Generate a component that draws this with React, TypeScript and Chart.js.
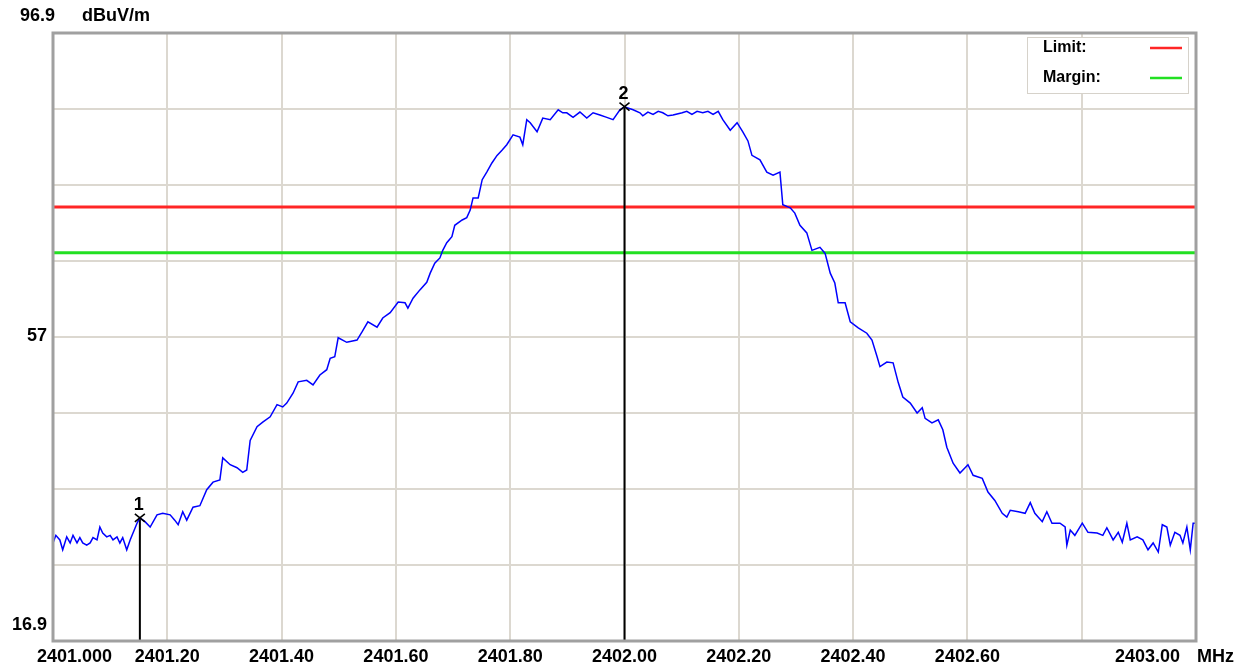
import React, { useEffect, useRef } from 'react';
import { Chart, registerables } from 'chart.js';

Chart.register(...registerables);

const freqMHz = [
  2401.000, 2401.005, 2401.012, 2401.017, 2401.024, 2401.030, 2401.035, 2401.042, 2401.047, 2401.052,
  2401.059, 2401.065, 2401.070, 2401.077, 2401.082, 2401.087, 2401.094, 2401.100, 2401.105, 2401.112,
  2401.117, 2401.122, 2401.129, 2401.135, 2401.147, 2401.152, 2401.161, 2401.170, 2401.182, 2401.192,
  2401.205, 2401.213, 2401.219, 2401.227, 2401.234, 2401.245, 2401.257, 2401.269, 2401.280, 2401.292,
  2401.297, 2401.310, 2401.322, 2401.332, 2401.339, 2401.345, 2401.357, 2401.367, 2401.380, 2401.392,
  2401.402, 2401.409, 2401.420, 2401.429, 2401.444, 2401.455, 2401.467, 2401.479, 2401.485, 2401.493,
  2401.499, 2401.514, 2401.532, 2401.541, 2401.551, 2401.567, 2401.577, 2401.590, 2401.604, 2401.616,
  2401.621, 2401.630, 2401.642, 2401.654, 2401.660, 2401.668, 2401.677, 2401.682, 2401.689, 2401.698,
  2401.703, 2401.716, 2401.724, 2401.730, 2401.735, 2401.744, 2401.751, 2401.759, 2401.768, 2401.777,
  2401.786, 2401.794, 2401.805, 2401.817, 2401.822, 2401.829, 2401.835, 2401.847, 2401.857, 2401.870,
  2401.884, 2401.892, 2401.899, 2401.910, 2401.922, 2401.934, 2401.945, 2401.957, 2401.969, 2401.980,
  2401.992, 2402.000,
  2402.015, 2402.027, 2402.032, 2402.041, 2402.050, 2402.059, 2402.067, 2402.076, 2402.085, 2402.101,
  2402.109, 2402.118, 2402.127, 2402.137, 2402.146, 2402.155, 2402.164,
  2402.172, 2402.185, 2402.197, 2402.207, 2402.216, 2402.223, 2402.237, 2402.249,
  2402.260, 2402.272, 2402.277, 2402.290, 2402.298, 2402.307, 2402.319, 2402.328, 2402.342, 2402.351,
  2402.360, 2402.368, 2402.374, 2402.386, 2402.395, 2402.409, 2402.424, 2402.433, 2402.442, 2402.447,
  2402.459, 2402.470, 2402.479, 2402.487, 2402.500, 2402.512, 2402.521, 2402.526, 2402.538, 2402.549,
  2402.557, 2402.564, 2402.575, 2402.587, 2402.601, 2402.610, 2402.626, 2402.636, 2402.648, 2402.661,
  2402.669, 2402.675, 2402.689, 2402.701, 2402.710, 2402.718, 2402.731, 2402.739, 2402.748, 2402.762,
  2402.771, 2402.774, 2402.780, 2402.788, 2402.801, 2402.811, 2402.827, 2402.837, 2402.844, 2402.855,
  2402.864, 2402.871, 2402.879, 2402.885, 2402.897, 2402.907, 2402.916, 2402.925, 2402.934, 2402.941,
  2402.949, 2402.955, 2402.963, 2402.972, 2402.977, 2402.984, 2402.990, 2402.995, 2403.000,
];

const levelDbuv = [
  29.8, 30.8, 30.2, 28.9, 30.6, 29.8, 30.8, 29.8, 30.5, 29.8,
  29.5, 29.8, 30.5, 30.2, 31.9, 31.1, 30.6, 30.8, 30.2, 30.6,
  29.8, 30.5, 28.9, 30.2, 32.4, 33.1, 32.6, 31.9, 33.5, 33.7,
  33.5, 32.8, 32.2, 33.9, 32.8, 34.5, 34.7, 36.8, 37.8, 38.1,
  41.0, 40.1, 39.7, 39.1, 39.4, 43.3, 45.1, 45.7, 46.4, 48.0,
  47.7, 48.2, 49.5, 51.0, 51.2, 50.6, 51.9, 52.6, 54.1, 54.3,
  56.8, 56.2, 56.5, 57.6, 58.9, 58.2, 59.4, 60.1, 61.5, 61.4,
  60.7, 62.0, 63.1, 64.1, 65.3, 66.6, 67.3, 68.3, 69.3, 70.1,
  71.6, 72.3, 72.6, 73.6, 75.2, 75.2, 77.6, 78.6, 79.8, 80.8,
  81.5, 82.2, 83.5, 83.2, 82.2, 85.5, 85.1, 83.9, 85.7, 85.5,
  86.8, 86.4, 86.4, 85.8, 86.5, 85.7, 86.4, 86.1, 85.8, 85.5,
  86.8, 87.2,
  86.8, 86.4, 86.0, 86.5, 86.2, 86.6, 86.4, 86.0, 86.1, 86.4,
  86.6, 86.2, 86.6, 86.4, 86.6, 86.2, 86.6,
  85.5, 84.1, 85.1, 83.9, 82.7, 80.8, 80.2, 78.6,
  78.2, 78.6, 74.3, 73.9, 73.2, 71.6, 70.6, 68.3, 68.7, 67.9,
  65.3, 64.0, 61.4, 61.4, 58.9, 58.1, 57.4, 56.5, 54.3, 53.0,
  53.6, 53.5, 50.9, 49.0, 48.2, 46.9, 47.6, 46.2, 45.6, 46.0,
  44.7, 42.4, 40.3, 39.0, 40.1, 38.7, 38.3, 36.5, 35.4, 33.7,
  33.2, 34.1, 33.9, 33.7, 35.1, 33.7, 32.6, 33.9, 32.4, 32.4,
  31.9, 29.5, 31.5, 30.8, 32.4, 31.2, 31.1, 30.8, 31.8, 30.2,
  31.2, 29.9, 32.4, 30.2, 30.6, 30.2, 28.9, 29.8, 28.6, 32.2,
  31.9, 29.5, 31.2, 30.8, 29.8, 31.9, 28.9, 32.4, 32.4,
];

const limitDbuv = 74;
const marginDbuv = 68;

const markerFreqs = [2401.152, 2402.0];
const markerLevels = [33.1, 87.2];
const markerNames = ['1', '2'];

const xMin = 2401.0;
const xMax = 2403.0;
const yMin = 16.9;
const yMax = 96.9;

const xTickValues = [2401.0, 2401.2, 2401.4, 2401.6, 2401.8, 2402.0, 2402.2, 2402.4, 2402.6, 2402.8, 2403.0];
const xTickLabels = ['2401.000', '2401.20', '2401.40', '2401.60', '2401.80', '2402.00', '2402.20', '2402.40', '2402.60', '', '2403.00'];
const yGridValues = [16.9, 26.9, 36.9, 46.9, 56.9, 66.9, 76.9, 86.9, 96.9];
const yTickLabels = ['16.9', '', '', '', '57', '', '', '', '96.9'];
const yUnit = 'dBuV/m';
const xUnit = 'MHz';
const legendNames = ['Limit:', 'Margin:'];

const FONT = '"Liberation Sans", Arial, sans-serif';
const TRACE_COLOR = '#0000ff';
const LIMIT_COLOR = '#ff2626';
const MARGIN_COLOR = '#22e022';
const GRID_COLOR = '#dcd8d0';

const overlayPlugin = {
  id: 'overlay',
  afterDraw(chart: any) {
    const { ctx, chartArea } = chart;
    const xs = chart.scales.x;
    const ys = chart.scales.y;
    const { left, right, top, bottom } = chartArea;
    ctx.save();

    // frame
    ctx.strokeStyle = '#a0a0a0';
    ctx.lineWidth = 3;
    ctx.strokeRect(left, top, right - left, bottom - top);

    ctx.fillStyle = '#000';
    ctx.textBaseline = 'middle';
    ctx.font = `bold 18px ${FONT}`;

    // y labels
    yGridValues.forEach((v, i) => {
      const lbl = yTickLabels[i];
      if (!lbl) return;
      const py = ys.getPixelForValue(v);
      ctx.textAlign = 'right';
      if (i === yGridValues.length - 1) {
        ctx.fillText(lbl, left + 2, py - 17);
      } else if (i === 0) {
        ctx.fillText(lbl, left - 6, py - 16);
      } else {
        ctx.fillText(lbl, left - 6, py - 1);
      }
    });
    ctx.textAlign = 'left';
    ctx.fillText(yUnit, left + 29, top - 17);

    // x labels
    xTickValues.forEach((v, i) => {
      const lbl = xTickLabels[i];
      if (!lbl) return;
      const px = xs.getPixelForValue(v);
      const py = bottom + 16;
      if (i === 0) {
        ctx.textAlign = 'left';
        ctx.fillText(lbl, px - 16, py);
      } else if (i === xTickValues.length - 1) {
        ctx.textAlign = 'right';
        ctx.fillText(lbl, px - 16, py);
      } else {
        ctx.textAlign = 'center';
        ctx.fillText(lbl, px, py);
      }
    });
    ctx.textAlign = 'left';
    ctx.fillText(xUnit, right + 1, bottom + 16);

    // markers
    markerFreqs.forEach((f, i) => {
      const px = xs.getPixelForValue(f);
      const py = ys.getPixelForValue(markerLevels[i]);
      ctx.strokeStyle = '#000';
      ctx.lineWidth = 1.6;
      ctx.beginPath();
      ctx.moveTo(px - 5, py - 4);
      ctx.lineTo(px + 5, py + 4);
      ctx.moveTo(px + 5, py - 4);
      ctx.lineTo(px - 5, py + 4);
      ctx.stroke();
      ctx.font = `bold 18px ${FONT}`;
      ctx.textAlign = 'center';
      ctx.fillStyle = '#000';
      ctx.fillText(markerNames[i], px - 1, py - 13);
    });

    // legend box
    const bx = right - 169;
    const by = top + 4;
    ctx.fillStyle = '#ffffff';
    ctx.fillRect(bx, by, 161, 56);
    ctx.strokeStyle = '#d6d2ca';
    ctx.lineWidth = 1;
    ctx.strokeRect(bx + 0.5, by + 0.5, 161, 56);
    ctx.font = `bold 16px ${FONT}`;
    ctx.textAlign = 'left';
    const colors = [LIMIT_COLOR, MARGIN_COLOR];
    legendNames.forEach((name, i) => {
      const ly = by + 11 + i * 30;
      ctx.fillStyle = '#000';
      ctx.fillText(name, bx + 16, ly);
      ctx.strokeStyle = colors[i];
      ctx.lineWidth = 2.5;
      ctx.beginPath();
      ctx.moveTo(bx + 123, ly);
      ctx.lineTo(bx + 155, ly);
      ctx.stroke();
    });

    ctx.restore();
  },
};

export default function App() {
  const canvasRef = useRef<HTMLCanvasElement | null>(null);

  useEffect(() => {
    const canvas = canvasRef.current;
    if (!canvas) return;
    const trace = freqMHz.map((f, i) => ({ x: f, y: levelDbuv[i] }));
    const markerSets = markerFreqs.map((f, i) => ({
      label: 'Marker ' + markerNames[i],
      data: [
        { x: f, y: markerLevels[i] },
        { x: f, y: yMin },
      ],
      borderColor: '#000000',
      borderWidth: 2,
      pointRadius: 0,
      order: 1,
    }));

    const chart = new Chart(canvas, {
      type: 'line',
      data: {
        datasets: [
          {
            label: 'Trace',
            data: trace,
            borderColor: TRACE_COLOR,
            borderWidth: 1.5,
            pointRadius: 0,
            tension: 0,
            order: 0,
          },
          ...markerSets,
          {
            label: 'Limit',
            data: [
              { x: xMin, y: limitDbuv },
              { x: xMax, y: limitDbuv },
            ],
            borderColor: LIMIT_COLOR,
            borderWidth: 3,
            pointRadius: 0,
            order: 2,
          },
          {
            label: 'Margin',
            data: [
              { x: xMin, y: marginDbuv },
              { x: xMax, y: marginDbuv },
            ],
            borderColor: MARGIN_COLOR,
            borderWidth: 3,
            pointRadius: 0,
            order: 2,
          },
        ],
      },
      options: {
        responsive: false,
        animation: false,
        layout: { padding: { left: 53, top: 33, right: 48, bottom: 28 } },
        plugins: {
          legend: { display: false },
          tooltip: { enabled: false },
        },
        scales: {
          x: {
            type: 'linear',
            min: xMin,
            max: xMax,
            afterBuildTicks: (s: any) => {
              s.ticks = xTickValues.map((v) => ({ value: v }));
            },
            ticks: { display: false },
            grid: { color: GRID_COLOR, lineWidth: 2, drawTicks: false },
            border: { display: false },
          },
          y: {
            type: 'linear',
            min: yMin,
            max: yMax,
            afterBuildTicks: (s: any) => {
              s.ticks = yGridValues.map((v) => ({ value: v }));
            },
            ticks: { display: false },
            grid: { color: GRID_COLOR, lineWidth: 2, drawTicks: false },
            border: { display: false },
          },
        },
      },
      plugins: [overlayPlugin],
    } as any);

    return () => chart.destroy();
  }, []);

  return (
    <div style={{ position: 'fixed', left: 0, top: 0, width: 1244, height: 669, background: '#ffffff' }}>
      <canvas ref={canvasRef} width={1244} height={669} style={{ display: 'block' }} />
    </div>
  );
}
